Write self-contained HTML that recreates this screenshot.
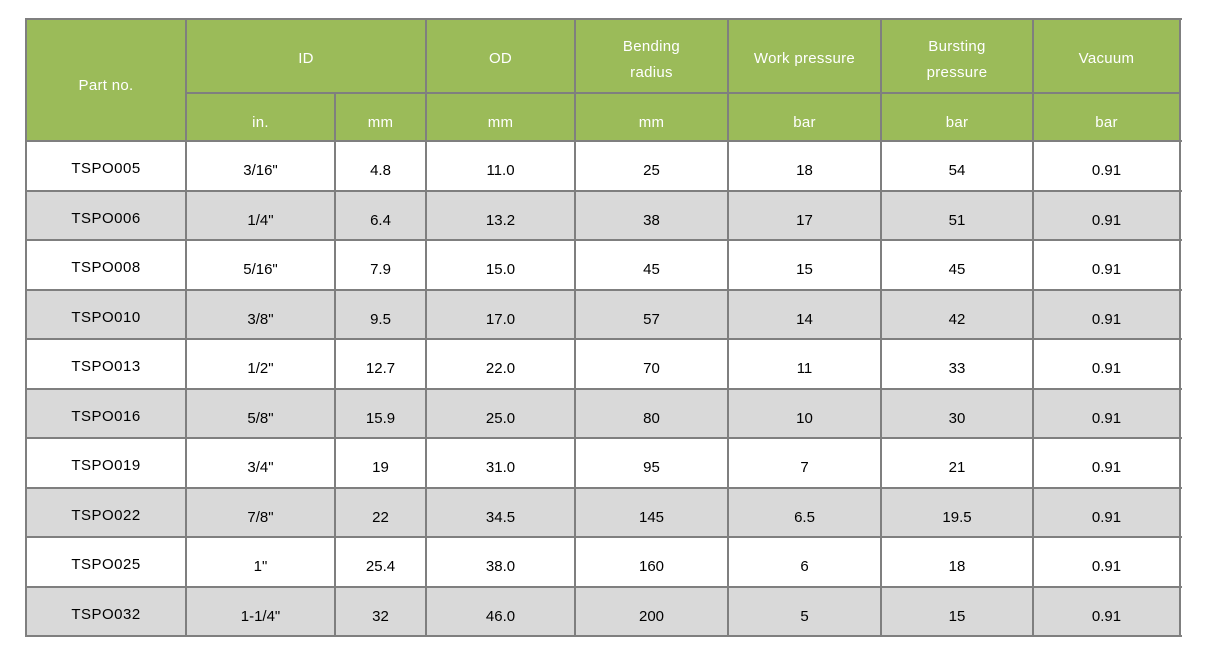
<!DOCTYPE html><html><head><style>
body{margin:0;width:1213px;height:665px;background:#fff;position:relative;font-family:"Liberation Sans",Arial,sans-serif;overflow:hidden}
.c{position:absolute;display:flex;align-items:center;justify-content:center;text-align:center;font-size:15px;color:#000;line-height:26px;box-sizing:border-box;padding-top:10px}
.h{color:#fff;background:#9bbb59;letter-spacing:.3px;padding-top:10px}
.l{position:absolute;background:#7f7f7f}
</style></head><body><div id="t"></div>
<script>
var X=[26,186,335,426,575,728,881,1033,1180];
var Y=[141,191,240,290,339,389,438,488,537,587,636];
var s='';
function cell(x1,y1,x2,y2,txt,cls,bg,pt){s+='<div class="c '+(cls||'')+'" style="left:'+x1+'px;top:'+y1+'px;width:'+(x2-x1)+'px;height:'+(y2-y1)+'px;'+(bg?'background:'+bg+';':'')+(pt!=null?'padding-top:'+pt+'px':'')+'">'+txt+'</div>';}
cell(X[0],19,X[1],141,'Part no.','h',null,11);
cell(X[1],19,X[3],93,'ID','h',null,5);
var hdr=['OD','Bending<br>radius','Work pressure','Bursting<br>pressure','Vacuum'];
for(var i=0;i<5;i++)cell(X[3+i],19,X[4+i],93,hdr[i],'h',null,(i==1||i==3)?8:5);
var u=['in.','mm','mm','mm','bar','bar','bar'];
for(var i=0;i<7;i++)cell(X[1+i],93,X[2+i],141,u[i],'h',null,11);
var d=[
['TSPO005','3/16"','4.8','11.0','25','18','54','0.91'],
['TSPO006','1/4"','6.4','13.2','38','17','51','0.91'],
['TSPO008','5/16"','7.9','15.0','45','15','45','0.91'],
['TSPO010','3/8"','9.5','17.0','57','14','42','0.91'],
['TSPO013','1/2"','12.7','22.0','70','11','33','0.91'],
['TSPO016','5/8"','15.9','25.0','80','10','30','0.91'],
['TSPO019','3/4"','19','31.0','95','7','21','0.91'],
['TSPO022','7/8"','22','34.5','145','6.5','19.5','0.91'],
['TSPO025','1"','25.4','38.0','160','6','18','0.91'],
['TSPO032','1-1/4"','32','46.0','200','5','15','0.91']];
for(var r=0;r<10;r++){var bg=r%2?'#d9d9d9':'#fff';for(var c=0;c<8;c++){var txt=d[r][c];if(c==0)txt='<span style="position:relative;top:-2px;letter-spacing:.5px">'+txt+'</span>';cell(X[c],Y[r],X[c+1],Y[r+1],txt,'',bg);}}
for(var i=0;i<X.length;i++){var y0=19;if(i==2)y0=93;s+='<div class="l" style="left:'+(X[i]-1)+'px;top:'+y0+'px;width:2px;height:'+(637-y0)+'px"></div>';}
s+='<div class="l" style="left:25px;top:18px;width:1157px;height:2px"></div>';
s+='<div class="l" style="left:'+(X[1]-1)+'px;top:92px;width:'+(1182-X[1])+'px;height:2px"></div>';
for(var i=0;i<Y.length;i++)s+='<div class="l" style="left:25px;top:'+(Y[i]-1)+'px;width:1157px;height:2px"></div>';
document.getElementById('t').innerHTML=s;
</script></body></html>
